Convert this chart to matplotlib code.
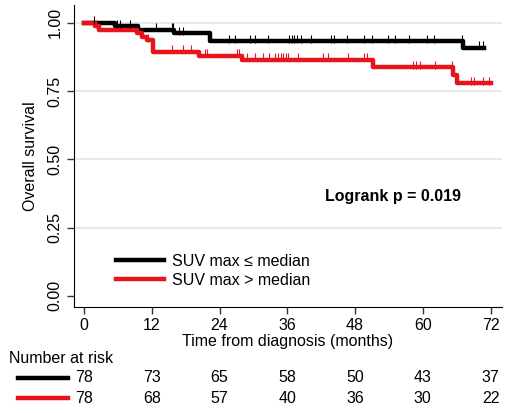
import numpy as np
import matplotlib.pyplot as plt
from matplotlib.transforms import blended_transform_factory

plt.rcParams['font.family'] = ['Liberation Sans', 'DejaVu Sans']

# Kaplan-Meier steps (months, survival)
low_times = [0, 5.5, 9.6, 15.9, 22.3, 67.1]
low_surv = [1.0, 0.987, 0.974, 0.961, 0.933, 0.908]
low_end = 70.8
low_cens = [1.8, 5.9, 6.3, 8.1, 12.7, 15.6, 15.8, 16.8, 17.5, 25.7, 26.7, 29.4, 30.3,
            32.6, 36.3, 36.8, 37.2, 37.7, 38.4, 40.2, 43.7, 44.2, 46.5, 49.6, 51.0,
            53.8, 55.0, 57.5, 60.7, 62.0, 67.0, 69.9, 70.6]

high_times = [0, 1.9, 2.7, 9.4, 10.2, 11.1, 12.2, 20.4, 27.9, 51.1, 65.3, 66.0]
high_surv = [1.0, 0.987, 0.974, 0.961, 0.948, 0.935, 0.893, 0.879, 0.864, 0.838, 0.808, 0.779]
high_end = 72.0
high_cens = [2.2, 11.3, 15.5, 17.5, 18.9, 21.5, 21.8, 27.1, 27.4, 28.8, 30.3, 31.7, 32.7,
             33.8, 34.3, 34.9, 35.2, 35.8, 36.1, 37.9, 42.3, 43.2, 46.7, 49.6, 50.1,
             58.2, 58.8, 59.5, 62.1, 65.2, 68.5, 69.0, 70.6, 71.7]

risk_times = [0, 12, 24, 36, 48, 60, 72]
risk_low = [78, 73, 65, 58, 50, 43, 37]
risk_high = [78, 68, 57, 40, 36, 30, 22]

black = '#000000'
red = '#e8141c'

fig = plt.figure(figsize=(5.2, 4.13), dpi=100)
ax = fig.add_axes([0.142, 0.257, 0.823, 0.731])


def km(times, surv, end, cens, color, label):
    t = list(times) + [end]
    s = list(surv) + [surv[-1]]
    ax.step(t, s, where='post', color=color, lw=3.2, label=label, zorder=3)
    idx = np.searchsorted(times, cens, side='right') - 1
    ys = np.array(surv)[idx]
    ax.plot(cens, ys + 0.009, ls='none', marker='|', ms=6, mew=0.8, color=color, zorder=4)


km(low_times, low_surv, low_end, low_cens, black, 'SUV max \u2264 median')
km(high_times, high_surv, high_end, high_cens, red, 'SUV max > median')

ax.set_xlim(-1.8, 74)
ax.set_ylim(-0.04, 1.065)
ax.set_xticks(risk_times)
ax.set_yticks([0, 0.25, 0.5, 0.75, 1.0])
ax.set_yticklabels(['0.00', '0.25', '0.50', '0.75', '1.00'], rotation=90, va='center')
for yv in [0.25, 0.5, 0.75, 1.0]:
    ax.axhline(yv, color='#e4e4e4', lw=1.2, zorder=1)
ax.spines['top'].set_visible(False)
ax.spines['right'].set_visible(False)
ax.tick_params(labelsize=11.5, length=5, width=1, color='#333333', pad=3)
ax.set_ylabel('Overall survival', fontsize=11.5, labelpad=7)
ax.set_xlabel('Time from diagnosis (months)', fontsize=11.5, labelpad=1)

ax.text(0.745, 0.366, 'Logrank p = 0.019', transform=ax.transAxes,
        fontsize=11.5, fontweight='bold', ha='center', va='center')

ax.legend(loc='lower left', bbox_to_anchor=(0.065, 0.015), frameon=False,
          fontsize=11.5, handlelength=3.0, handletextpad=0.5, labelspacing=0.25)

# number at risk table
tr = blended_transform_factory(ax.transData, fig.transFigure)
fig.text(0.017, 0.133, 'Number at risk', fontsize=11.5, va='center')
for yy, vals, col in [(0.085, risk_low, black), (0.036, risk_high, red)]:
    for t, v in zip(risk_times, vals):
        ax.text(t, yy, str(v), transform=tr, fontsize=11.5, ha='center', va='center',
                clip_on=False)
    fig.add_artist(plt.Line2D([0.035, 0.13], [yy, yy], color=col, lw=3.2,
                              transform=fig.transFigure))

fig.savefig('out.png', dpi=100)
